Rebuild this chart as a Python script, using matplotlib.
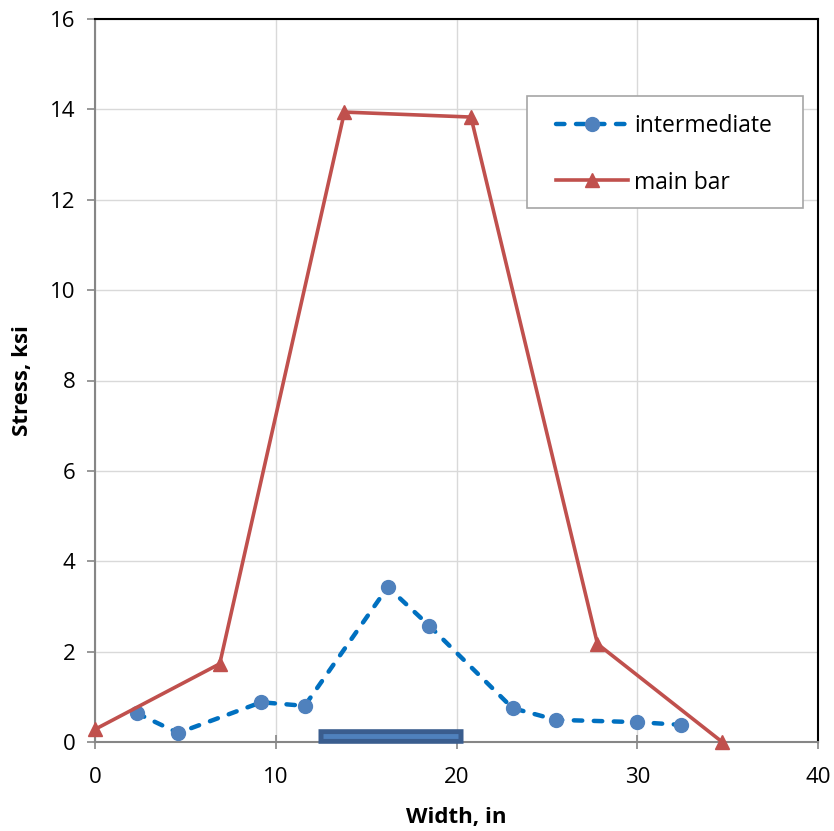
import matplotlib
matplotlib.use("Agg")
import matplotlib.pyplot as plt
from matplotlib.patches import Rectangle

plt.rcParams['font.family'] = ['Open Sans', 'DejaVu Sans']

# data
inter_x = [2.3, 4.6, 9.2, 11.6, 16.2, 18.5, 23.1, 25.5, 30.0, 32.4]
inter_y = [0.64, 0.20, 0.88, 0.80, 3.43, 2.57, 0.75, 0.49, 0.44, 0.38]
main_x = [0.0, 6.9, 13.8, 20.8, 27.8, 34.7]
main_y = [0.28, 1.73, 13.94, 13.83, 2.17, 0.0]
bar_x = [12.35, 20.35]
bar_y = [0.13, 0.13]
x_ticks = [0, 10, 20, 30, 40]
y_ticks = [0, 2, 4, 6, 8, 10, 12, 14, 16]

fig = plt.figure(figsize=(8.34, 8.31), dpi=100)
ax = fig.add_axes([95/834, 89/831, 723/834, 723/831])

ax.plot(bar_x, bar_y, color='#3A5D8E', lw=10.5, solid_capstyle='butt', zorder=4, clip_on=False)
ax.plot([bar_x[0] + 0.25, bar_x[1] - 0.25], bar_y, color='#4F81BD', lw=3.5,
        solid_capstyle='butt', zorder=5, clip_on=False)

ax.plot(inter_x, inter_y, color='#0070C0', lw=3.2, dashes=(1.9, 2.6), dash_capstyle='round',
        marker='o', markersize=10, markerfacecolor='#4F81BD', markeredgecolor='#4F81BD',
        label='intermediate', zorder=6, clip_on=False)
ax.plot(main_x, main_y, color='#C0504D', lw=2.6, marker='^', markersize=10,
        markerfacecolor='#C0504D', markeredgecolor='#C0504D',
        label='main bar', zorder=7, clip_on=False)

ax.set_xlim(0, 40)
ax.set_ylim(0, 16)
ax.set_xticks(x_ticks)
ax.set_yticks(y_ticks)
ax.grid(True, color='#D9D9D9', lw=1)
ax.set_axisbelow(True)
for s in ['left', 'bottom']:
    ax.spines[s].set_color('#868686')
    ax.spines[s].set_linewidth(1.5)
for s in ['top', 'right']:
    ax.spines[s].set_color('black')
    ax.spines[s].set_linewidth(1.5)
ax.tick_params(axis='both', labelsize=16, color='#868686', width=1.2, length=6, pad=6)
ax.tick_params(axis='x', direction='inout', length=10, pad=13)
ax.tick_params(axis='y', direction='out', length=6, pad=8)
ax.set_xlabel('Width, in', fontsize=16, fontweight='bold', labelpad=14)
ax.set_ylabel('Stress, ksi', fontsize=16, fontweight='bold', labelpad=12)

# legend frame
ax.add_patch(Rectangle((0.5975, 0.7386), 0.3815, 0.1549, transform=ax.transAxes,
                       facecolor='white', edgecolor='#A6A6A6', lw=1.2, zorder=8))
leg = ax.legend(loc='upper left', bbox_to_anchor=(0.6376, 0.868), fontsize=16.5,
                frameon=False, borderpad=0, labelspacing=1.4, handlelength=3.14,
                handletextpad=0.26, borderaxespad=0)
leg.set_zorder(9)

fig.savefig('out.png', dpi=100)
